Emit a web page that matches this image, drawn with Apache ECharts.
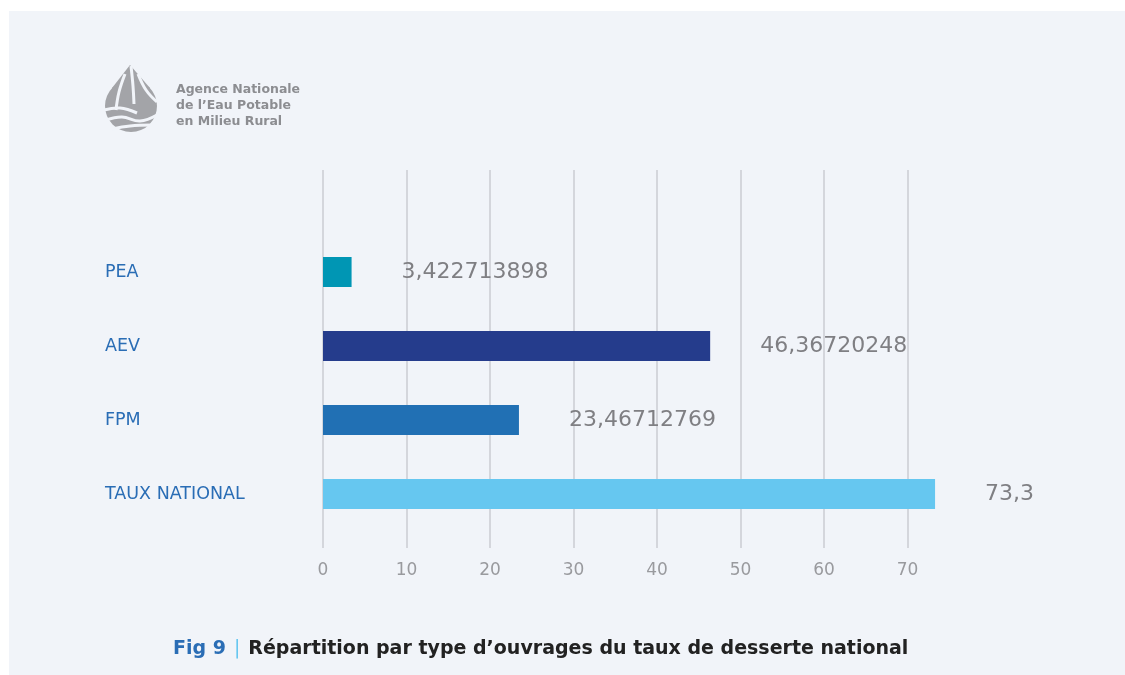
<!DOCTYPE html>
<html>
<head>
<meta charset="utf-8">
<script src="https://cdn.jsdelivr.net/npm/echarts@6/dist/echarts.min.js"></script>
<style>
html,body{margin:0;padding:0;background:#ffffff;}
#chart{width:1125px;height:675px;}
</style>
</head>
<body>
<div id="chart"></div>
<script>
const categories = ['PEA', 'AEV', 'FPM', 'TAUX NATIONAL'];
const values = [3.422713898, 46.36720248, 23.46712769, 73.3];
const barColors = ['#0096b4', '#253c8c', '#2170b4', '#66c7f0'];
const xTicks = [0, 10, 20, 30, 40, 50, 60, 70];
const titleParts = ['Fig 9', '|', 'Répartition par type d’ouvrages du taux de desserte national'];
const logoLines = ['Agence Nationale', 'de l’Eau Potable', 'en Milieu Rural'];

const FONT = '"DejaVu Sans", "Noto Sans", sans-serif';
const chart = echarts.init(document.getElementById('chart'), null, {renderer: 'canvas'});

const stripe = pts => ({type: 'polyline', z: 6, shape: {points: pts, smooth: 0.4}, style: {stroke: '#f1f4f9', lineWidth: 3, fill: null}});

const option = {
  backgroundColor: '#ffffff',
  animation: false,
  grid: [
    {left: 323, width: 668, top: 170, bottom: 127, containLabel: false},
    {left: 323, width: 668, top: 235, bottom: 144, containLabel: false}
  ],
  xAxis: [
    {
      gridIndex: 0, type: 'value', min: xTicks[0], max: 80, interval: 10,
      axisLine: {show: false}, axisTick: {show: false},
      splitLine: {show: true, showMaxLine: false, lineStyle: {color: '#cacdd2', width: 1.5}},
      axisLabel: {
        showMaxLabel: false, margin: 14, color: '#999a9e', fontSize: 17, fontFamily: FONT,
        formatter: v => xTicks.includes(v) ? String(v) : ''
      }
    },
    {
      gridIndex: 1, type: 'value', min: xTicks[0], max: 80, show: false
    }
  ],
  yAxis: [
    {gridIndex: 0, type: 'category', data: categories, show: false},
    {
      gridIndex: 1, type: 'category', data: categories, inverse: true,
      axisLine: {show: false}, axisTick: {show: false},
      axisLabel: {
        align: 'left', margin: 218, color: '#2a6db5', fontSize: 17.5, fontFamily: FONT,
        padding: [0, 0, 8, 0]
      }
    }
  ],
  series: [{
    type: 'bar', xAxisIndex: 1, yAxisIndex: 1,
    barWidth: 30,
    data: values.map((v, i) => ({value: v, itemStyle: {color: barColors[i]}})),
    label: {
      show: true, position: 'right', distance: 50,
      color: '#7f7f83', fontSize: 22, fontFamily: FONT,
      padding: [3, 0, 0, 0],
      formatter: p => String(p.value).replace('.', ',')
    }
  }],
  graphic: [
    {type: 'rect', z: -10, shape: {x: 9, y: 11, width: 1116, height: 664}, style: {fill: '#f1f4f9'}},
    {type: 'circle', z: 5, shape: {cx: 131, cy: 106, r: 26}, style: {fill: '#a3a4a8'}},
    {type: 'polygon', z: 5, shape: {points: [[130, 65], [112, 88], [131, 106], [150, 88]]}, style: {fill: '#a3a4a8'}},
    stripe([[125, 74], [119, 92], [116, 110]]),
    stripe([[131, 66], [133, 86], [134, 104]]),
    stripe([[138, 74], [146, 90], [157, 102]]),
    stripe([[104, 110], [120, 108], [137, 113]]),
    stripe([[106, 120], [122, 117], [140, 121], [157, 115]]),
    stripe([[112, 129], [130, 126], [152, 125]]),
    {type: 'text', z: 5, left: 176, top: 82,
      style: {text: logoLines.join('\n'), fill: '#8c8d91', font: 'bold 12.5px ' + FONT, lineHeight: 16}},
    {type: 'text', z: 5, left: 173, top: 640,
      style: {
        text: '{a|' + titleParts[0] + '}{b|' + titleParts[1] + '}{c|' + titleParts[2] + '}',
        rich: {
          a: {fill: '#2a6db5', font: 'bold 19px ' + FONT},
          b: {fill: '#66c7f0', font: '400 19px ' + FONT, padding: [0, 8, 0, 8]},
          c: {fill: '#222222', font: 'bold 19px ' + FONT}
        }
      }}
  ]
};
chart.setOption(option);
</script>
</body>
</html>
